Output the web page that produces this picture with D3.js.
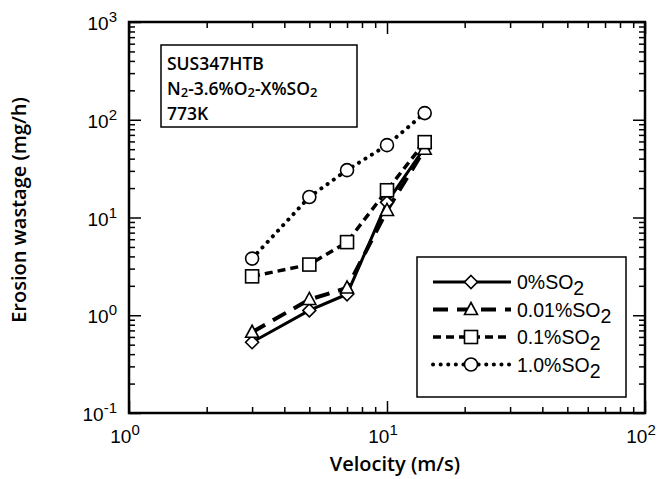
<!DOCTYPE html>
<html>
<head>
<meta charset="utf-8">
<script src="https://cdn.jsdelivr.net/npm/d3@7"></script>
<style>
  body { margin: 0; background: #fff; }
  svg { display: block; }
</style>
</head>
<body>
<svg id="chart" width="661" height="479"></svg>
<script>
// velocities (m/s)
const velocity = [3, 5, 7, 10, 14]
// erosion wastage (mg/h)
const so2_0 = [0.53, 1.12, 1.64, 14.3, 52]
const so2_001 = [0.67, 1.45, 1.9, 11.8, 50]
const so2_01 = [2.5, 3.3, 5.6, 19, 59]
const so2_10 = [3.8, 16.2, 30.5, 55, 117]

const seriesNames = ["0%SO", "0.01%SO", "0.1%SO", "1.0%SO"]
const infoLines = ["SUS347HTB", "N2-3.6%O2-X%SO2", "773K"]

const xDecades = [0, 1, 2]
const yDecades = [-1, 0, 1, 2, 3]

const svg = d3.select("#chart")
const plotL = 129, plotR = 645, plotT = 22, plotB = 413

const x = d3.scaleLog().domain([1, 100]).range([plotL, plotR])
const y = d3.scaleLog().domain([0.1, 1000]).range([plotB, plotT])

// line styles per series
const styles = [
    { width: 3, dash: null, cap: "butt", marker: "diamond" },
    { width: 4, dash: "15 9", cap: "butt", marker: "triangle" },
    { width: 3.5, dash: "8 5", cap: "butt", marker: "square" },
    { width: 4, dash: "0.1 7.5", cap: "round", marker: "circle" },
]
const allData = [so2_0, so2_001, so2_01, so2_10]

function logTicks(scale, major) {
    var out = []
    var d = scale.domain()
    for (var e = Math.round(Math.log10(d[0])); e < Math.round(Math.log10(d[1])); e++) {
        for (var k = 1; k < 10; k++) {
            if ((k == 1) == major) out.push(k * Math.pow(10, e))
        }
    }
    if (major) out.push(d[1])
    return out
}

const g = svg.append("g")

// inward ticks on all four sides, via d3 axes
function tickAxis(axisFn, scale, transform) {
    [true, false].forEach(function (major) {
        var ax = axisFn(scale).tickValues(logTicks(scale, major)).tickSize(major ? -12 : -6).tickFormat("")
        var a = g.append("g").attr("transform", transform).call(ax)
        a.select(".domain").remove()
        a.selectAll("line").attr("stroke", "#000").attr("stroke-width", 1.5)
    })
}
tickAxis(d3.axisBottom, x, "translate(0," + plotB + ")")
tickAxis(d3.axisTop, x, "translate(0," + plotT + ")")
tickAxis(d3.axisLeft, y, "translate(" + plotL + ",0)")
tickAxis(d3.axisRight, y, "translate(" + plotR + ",0)")

// frame
g.append("rect").attr("x", plotL).attr("y", plotT).attr("width", plotR - plotL).attr("height", plotB - plotT)
    .attr("fill", "none").attr("stroke", "#000").attr("stroke-width", 2.5)

const tickFont = "'Liberation Sans', Arial, sans-serif"
const titleFont = "'Open Sans', 'Noto Sans', sans-serif"

// x tick labels
xDecades.forEach(function (e) {
    var t = g.append("text").attr("x", x(Math.pow(10, e)) - 4).attr("y", 443)
        .attr("text-anchor", "middle").attr("font-family", tickFont).attr("font-size", 19)
    t.append("tspan").text("10")
    t.append("tspan").attr("dy", -8).attr("font-size", 15).text(e)
})
// y tick labels
yDecades.forEach(function (e) {
    var py = y(Math.pow(10, e))
    var t = g.append("text").attr("x", 117).attr("y", py + 8)
        .attr("text-anchor", "end").attr("font-family", tickFont).attr("font-size", 19)
    t.append("tspan").text("10")
    t.append("tspan").attr("dy", -8).attr("font-size", 15).text(e)
})

// axis titles
g.append("text").attr("x", 395).attr("y", 471).attr("text-anchor", "middle")
    .attr("font-family", titleFont).attr("font-weight", 600).attr("font-size", 20)
    .text("Velocity (m/s)")
g.append("text").attr("transform", "translate(26,210) rotate(-90)").attr("text-anchor", "middle")
    .attr("font-family", titleFont).attr("font-weight", 600).attr("font-size", 20)
    .text("Erosion wastage (mg/h)")

// markers
function drawMarker(sel, type, cx, cy) {
    var m
    if (type == "diamond") {
        m = sel.append("path").attr("d", "M0,-6.5L6.5,0L0,6.5L-6.5,0Z")
    } else if (type == "triangle") {
        m = sel.append("path").attr("d", "M0,-7L6.5,5L-6.5,5Z")
    } else if (type == "square") {
        m = sel.append("rect").attr("x", -6.5).attr("y", -6.5).attr("width", 13).attr("height", 13)
    } else {
        m = sel.append("circle").attr("r", 6.5)
    }
    m.attr("transform", "translate(" + cx + "," + cy + ")")
        .attr("fill", "#fff").attr("stroke", "#000").attr("stroke-width", 1.6)
}

const line = d3.line().x(function (d, i) { return x(velocity[i]) }).y(function (d) { return y(d) })

allData.forEach(function (data, s) {
    var st = styles[s]
    g.append("path").attr("d", line(data)).attr("fill", "none").attr("stroke", "#000")
        .attr("stroke-width", st.width).attr("stroke-dasharray", st.dash).attr("stroke-linecap", st.cap)
})
allData.forEach(function (data, s) {
    data.forEach(function (d, i) { drawMarker(g, styles[s].marker, x(velocity[i]), y(d)) })
})

// info box
g.append("rect").attr("x", 161).attr("y", 45).attr("width", 196).attr("height", 82)
    .attr("fill", "#fff").attr("stroke", "#000").attr("stroke-width", 1.5)
var info = g.append("g").attr("font-family", titleFont).attr("font-weight", 600).attr("font-size", 17.5)
info.append("text").attr("x", 167).attr("y", 69.5).text(infoLines[0])
var t2 = info.append("text").attr("x", 167).attr("y", 94.5)
t2.append("tspan").text("N")
t2.append("tspan").attr("font-size", 13).attr("dy", 2).text("2")
t2.append("tspan").attr("dy", -2).text("-3.6%O")
t2.append("tspan").attr("font-size", 13).attr("dy", 2).text("2")
t2.append("tspan").attr("dy", -2).text("-X%SO")
t2.append("tspan").attr("font-size", 13).attr("dy", 2).text("2")
info.append("text").attr("x", 167).attr("y", 119.5).text(infoLines[2])

// legend
g.append("rect").attr("x", 417).attr("y", 257).attr("width", 209).attr("height", 140)
    .attr("fill", "#fff").attr("stroke", "#000").attr("stroke-width", 1.5)
seriesNames.forEach(function (name, s) {
    var st = styles[s]
    var ly = 282 + s * 27.5
    g.append("line").attr("x1", 433).attr("x2", 511).attr("y1", ly).attr("y2", ly)
        .attr("stroke", "#000").attr("stroke-width", st.width).attr("stroke-dasharray", st.dash)
        .attr("stroke-linecap", st.cap)
    drawMarker(g, st.marker, 471, ly)
    var t = g.append("text").attr("x", 517).attr("y", ly + 7)
        .attr("font-family", tickFont).attr("font-size", 19.5)
    t.append("tspan").text(name)
    t.append("tspan").attr("dy", 6).text("2")
})
</script>
</body>
</html>
